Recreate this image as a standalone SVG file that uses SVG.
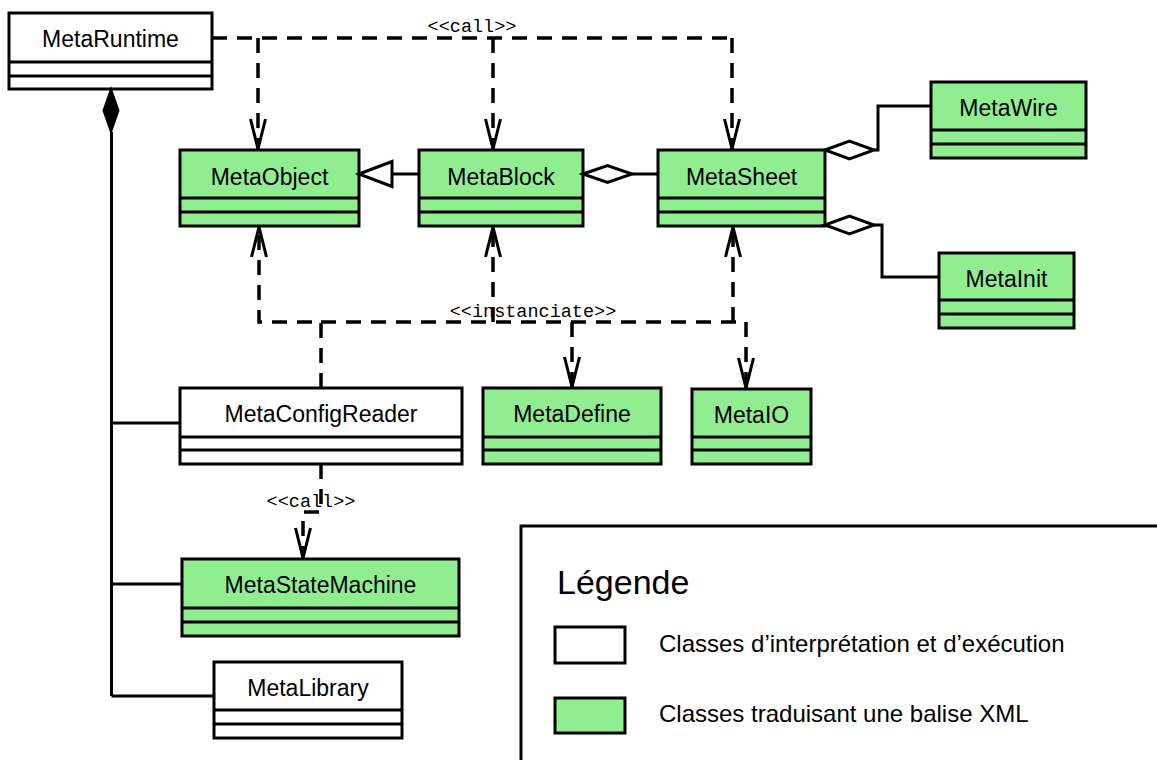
<svg xmlns="http://www.w3.org/2000/svg" width="1157" height="760" viewBox="0 0 1157 760">
<style>
.box{stroke:#000;stroke-width:3;}
.w{fill:#fff;}
.g{fill:#90ee90;}
.div{stroke:#000;stroke-width:3;fill:none;}
.name{font-family:"Liberation Sans",Arial,sans-serif;font-size:23px;text-anchor:middle;fill:#000;}
.solid{stroke:#000;stroke-width:3;fill:none;}
.dash{stroke:#000;stroke-width:3.5;fill:none;stroke-dasharray:15 10;}
.lbl{font-family:"Liberation Mono","Courier New",monospace;font-size:18.5px;text-anchor:middle;fill:#000;}
.leg{font-family:"Liberation Sans",Arial,sans-serif;fill:#000;}
</style>
<defs>
<marker id="open" markerUnits="userSpaceOnUse" viewBox="-34 -10 36 20" refX="0" refY="0" markerWidth="36" markerHeight="20" orient="auto">
<path d="M-30,-7.5 L0,0 L-30,7.5" fill="none" stroke="#000" stroke-width="3"/>
</marker>
</defs>
<rect width="1157" height="760" fill="#fff"/>

<g id="MetaRuntime">
<rect class="box w" x="9" y="13" width="203" height="76"/>
<path class="div" d="M9,62 H212 M9,76 H212"/>
<text class="name" x="110.5" y="47">MetaRuntime</text>
</g>
<g id="MetaObject">
<rect class="box g" x="180" y="150" width="179" height="76"/>
<path class="div" d="M180,198 H359 M180,212 H359"/>
<text class="name" x="269.5" y="185">MetaObject</text>
</g>
<g id="MetaBlock">
<rect class="box g" x="419" y="150" width="164" height="76"/>
<path class="div" d="M419,198 H583 M419,212 H583"/>
<text class="name" x="501" y="185">MetaBlock</text>
</g>
<g id="MetaSheet">
<rect class="box g" x="658" y="150" width="167" height="76"/>
<path class="div" d="M658,198 H825 M658,212 H825"/>
<text class="name" x="741.5" y="185">MetaSheet</text>
</g>
<g id="MetaWire">
<rect class="box g" x="931" y="82" width="155" height="76"/>
<path class="div" d="M931,130 H1086 M931,144 H1086"/>
<text class="name" x="1008.5" y="116">MetaWire</text>
</g>
<g id="MetaInit">
<rect class="box g" x="939" y="253" width="135" height="75"/>
<path class="div" d="M939,300 H1074 M939,314 H1074"/>
<text class="name" x="1006.5" y="287">MetaInit</text>
</g>
<g id="MetaConfigReader">
<rect class="box w" x="180" y="388" width="282" height="76"/>
<path class="div" d="M180,437 H462 M180,450 H462"/>
<text class="name" x="321" y="422">MetaConfigReader</text>
</g>
<g id="MetaDefine">
<rect class="box g" x="483" y="388" width="178" height="76"/>
<path class="div" d="M483,437 H661 M483,450 H661"/>
<text class="name" x="572" y="422">MetaDefine</text>
</g>
<g id="MetaIO">
<rect class="box g" x="692" y="389" width="119" height="75"/>
<path class="div" d="M692,437 H811 M692,450 H811"/>
<text class="name" x="751.5" y="423">MetaIO</text>
</g>
<g id="MetaStateMachine">
<rect class="box g" x="182" y="559" width="277" height="77"/>
<path class="div" d="M182,608 H459 M182,622 H459"/>
<text class="name" x="320.5" y="593">MetaStateMachine</text>
</g>
<g id="MetaLibrary">
<rect class="box w" x="214" y="662" width="188" height="76"/>
<path class="div" d="M214,710 H402 M214,724 H402"/>
<text class="name" x="308" y="696">MetaLibrary</text>
</g>

<g id="connectors">
<!-- composition from MetaRuntime -->
<path class="solid" d="M111.5,132 V696 M111.5,423 H180 M111.5,584 H182 M111.5,696 H214"/>
<polygon points="111,89 103.5,110.5 111,132 118.5,110.5" fill="#000" stroke="#000" stroke-width="2"/>
<!-- generalization MetaBlock -> MetaObject -->
<path class="solid" d="M392,174 H419"/>
<polygon points="359,174 392,161.5 392,186.5" fill="#fff" stroke="#000" stroke-width="3"/>
<!-- aggregation MetaSheet -> MetaBlock -->
<path class="solid" d="M632,174 H658"/>
<polygon points="583,174 607.5,165.5 632,174 607.5,182.5" fill="#fff" stroke="#000" stroke-width="3"/>
<!-- aggregation MetaSheet -> MetaWire -->
<path class="solid" d="M874,150 H878 V106 H931"/>
<polygon points="825,150 849.5,141 874,150 849.5,159" fill="#fff" stroke="#000" stroke-width="3"/>
<!-- aggregation MetaSheet -> MetaInit -->
<path class="solid" d="M874,225 H882 V277 H939"/>
<polygon points="825,225 849.5,216 874,225 849.5,234" fill="#fff" stroke="#000" stroke-width="3"/>

<!-- call from MetaRuntime -->
<path class="dash" d="M212,38 H732"/>
<path class="dash" d="M258,38 V149" marker-end="url(#open)"/>
<path class="dash" d="M493,38 V149" marker-end="url(#open)"/>
<path class="dash" d="M732,38 V149" marker-end="url(#open)"/>
<text class="lbl" x="472" y="32">&lt;&lt;call&gt;&gt;</text>

<!-- instanciate from MetaConfigReader -->
<path class="dash" d="M321,388 V322 H259 V227" marker-end="url(#open)"/>
<path class="dash" d="M321,322 H746"/>
<path class="dash" d="M493,322 V227" marker-end="url(#open)"/>
<path class="dash" d="M733,322 V227" marker-end="url(#open)"/>
<path class="dash" d="M572,322 V387" marker-end="url(#open)"/>
<path class="dash" d="M746,322 V388" marker-end="url(#open)"/>
<text class="lbl" x="533" y="317">&lt;&lt;instanciate&gt;&gt;</text>

<!-- call from MetaConfigReader to MetaStateMachine -->
<path class="dash" d="M321,464 V512 H303 V558" marker-end="url(#open)"/>
<text class="lbl" x="311" y="507">&lt;&lt;call&gt;&gt;</text>
</g>

<g id="legend">
<rect x="521" y="526" width="700" height="300" fill="none" stroke="#000" stroke-width="3"/>
<text class="leg" x="557" y="594" font-size="34">Légende</text>
<rect x="555" y="627" width="70" height="36" fill="#fff" stroke="#000" stroke-width="3"/>
<text class="leg" x="659" y="652" font-size="24">Classes d’interprétation et d’exécution</text>
<rect x="555" y="698" width="70" height="35" fill="#90ee90" stroke="#000" stroke-width="3"/>
<text class="leg" x="659" y="722" font-size="24">Classes traduisant une balise XML</text>
</g>
</svg>
